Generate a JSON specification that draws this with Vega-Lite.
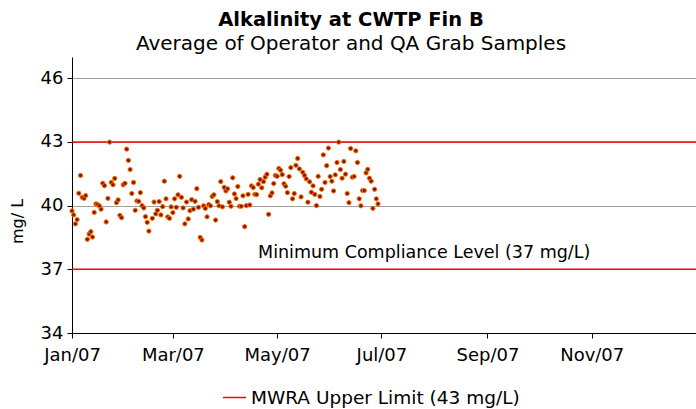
{
  "$schema": "https://vega.github.io/schema/vega-lite/v6.json",
  "width": 624,
  "height": 276,
  "autosize": {"type": "none"},
  "padding": {"left": 72, "top": 57, "right": 0, "bottom": 76},
  "background": "white",
  "config": {"view": {"stroke": null}, "font": "DejaVu Sans"},
  "title": {
    "text": "Alkalinity at CWTP Fin B",
    "subtitle": "Average of Operator and QA Grab Samples",
    "font": "DejaVu Sans",
    "fontSize": 19.5,
    "fontWeight": "bold",
    "color": "black",
    "subtitleFont": "DejaVu Sans",
    "subtitleFontSize": 20,
    "subtitleColor": "black",
    "subtitlePadding": 4,
    "anchor": "middle",
    "dx": -33,
    "offset": 2
  },
  "datasets": {
    "samples": [
      {"date": "2007-01-01", "alk": 39.75}, {"date": "2007-01-02", "alk": 39.56}, {"date": "2007-01-03", "alk": 39.14},
      {"date": "2007-01-04", "alk": 39.34}, {"date": "2007-01-05", "alk": 40.58}, {"date": "2007-01-06", "alk": 41.42},
      {"date": "2007-01-07", "alk": 40.39}, {"date": "2007-01-08", "alk": 40.34}, {"date": "2007-01-09", "alk": 40.47},
      {"date": "2007-01-10", "alk": 38.41}, {"date": "2007-01-11", "alk": 38.66}, {"date": "2007-01-12", "alk": 38.77},
      {"date": "2007-01-13", "alk": 38.52}, {"date": "2007-01-14", "alk": 39.68}, {"date": "2007-01-15", "alk": 40.08},
      {"date": "2007-01-16", "alk": 40.05}, {"date": "2007-01-17", "alk": 39.99}, {"date": "2007-01-18", "alk": 39.83},
      {"date": "2007-01-19", "alk": 41.05}, {"date": "2007-01-20", "alk": 40.94}, {"date": "2007-01-21", "alk": 39.23},
      {"date": "2007-01-22", "alk": 40.34}, {"date": "2007-01-23", "alk": 42.99}, {"date": "2007-01-24", "alk": 41.09},
      {"date": "2007-01-25", "alk": 40.98}, {"date": "2007-01-26", "alk": 41.28}, {"date": "2007-01-27", "alk": 40.14},
      {"date": "2007-01-28", "alk": 40.27}, {"date": "2007-01-29", "alk": 39.54}, {"date": "2007-01-30", "alk": 39.43},
      {"date": "2007-01-31", "alk": 40.98}, {"date": "2007-02-01", "alk": 41.05}, {"date": "2007-02-02", "alk": 42.66},
      {"date": "2007-02-03", "alk": 42.13}, {"date": "2007-02-04", "alk": 41.70}, {"date": "2007-02-05", "alk": 40.57},
      {"date": "2007-02-06", "alk": 41.09}, {"date": "2007-02-07", "alk": 39.78}, {"date": "2007-02-08", "alk": 40.22},
      {"date": "2007-02-09", "alk": 40.20}, {"date": "2007-02-10", "alk": 40.61}, {"date": "2007-02-11", "alk": 40.00},
      {"date": "2007-02-12", "alk": 39.89}, {"date": "2007-02-13", "alk": 39.48}, {"date": "2007-02-14", "alk": 39.21},
      {"date": "2007-02-15", "alk": 38.80}, {"date": "2007-02-17", "alk": 39.40}, {"date": "2007-02-18", "alk": 40.17},
      {"date": "2007-02-19", "alk": 39.61}, {"date": "2007-02-20", "alk": 39.78}, {"date": "2007-02-21", "alk": 40.19},
      {"date": "2007-02-22", "alk": 39.56}, {"date": "2007-02-23", "alk": 39.95}, {"date": "2007-02-24", "alk": 41.15},
      {"date": "2007-02-25", "alk": 40.32}, {"date": "2007-02-26", "alk": 39.47}, {"date": "2007-02-27", "alk": 39.40},
      {"date": "2007-02-28", "alk": 39.94}, {"date": "2007-03-01", "alk": 39.67}, {"date": "2007-03-02", "alk": 40.32},
      {"date": "2007-03-03", "alk": 39.92}, {"date": "2007-03-04", "alk": 40.51}, {"date": "2007-03-05", "alk": 41.38},
      {"date": "2007-03-06", "alk": 40.39}, {"date": "2007-03-07", "alk": 39.89}, {"date": "2007-03-08", "alk": 39.14},
      {"date": "2007-03-09", "alk": 40.17}, {"date": "2007-03-10", "alk": 39.37}, {"date": "2007-03-11", "alk": 39.76},
      {"date": "2007-03-12", "alk": 40.28}, {"date": "2007-03-13", "alk": 39.83}, {"date": "2007-03-14", "alk": 40.20},
      {"date": "2007-03-15", "alk": 40.80}, {"date": "2007-03-16", "alk": 39.92}, {"date": "2007-03-17", "alk": 38.50},
      {"date": "2007-03-18", "alk": 38.38}, {"date": "2007-03-19", "alk": 39.99}, {"date": "2007-03-20", "alk": 39.87},
      {"date": "2007-03-21", "alk": 39.47}, {"date": "2007-03-22", "alk": 40.05}, {"date": "2007-03-23", "alk": 39.99},
      {"date": "2007-03-24", "alk": 40.43}, {"date": "2007-03-25", "alk": 40.51}, {"date": "2007-03-26", "alk": 39.32},
      {"date": "2007-03-27", "alk": 40.19}, {"date": "2007-03-28", "alk": 39.99}, {"date": "2007-03-29", "alk": 41.13},
      {"date": "2007-03-30", "alk": 39.94}, {"date": "2007-03-31", "alk": 40.86}, {"date": "2007-04-01", "alk": 40.69},
      {"date": "2007-04-02", "alk": 40.79}, {"date": "2007-04-03", "alk": 40.16}, {"date": "2007-04-04", "alk": 39.97},
      {"date": "2007-04-05", "alk": 41.31}, {"date": "2007-04-06", "alk": 40.55}, {"date": "2007-04-07", "alk": 40.33},
      {"date": "2007-04-08", "alk": 40.90}, {"date": "2007-04-09", "alk": 39.97}, {"date": "2007-04-10", "alk": 39.97},
      {"date": "2007-04-11", "alk": 40.46}, {"date": "2007-04-12", "alk": 39.01}, {"date": "2007-04-13", "alk": 40.00},
      {"date": "2007-04-14", "alk": 40.53}, {"date": "2007-04-15", "alk": 40.03}, {"date": "2007-04-16", "alk": 40.93},
      {"date": "2007-04-17", "alk": 40.85}, {"date": "2007-04-18", "alk": 40.53}, {"date": "2007-04-19", "alk": 40.52},
      {"date": "2007-04-20", "alk": 41.01}, {"date": "2007-04-21", "alk": 41.23}, {"date": "2007-04-22", "alk": 40.84},
      {"date": "2007-04-23", "alk": 41.13}, {"date": "2007-04-24", "alk": 41.34}, {"date": "2007-04-25", "alk": 41.48},
      {"date": "2007-04-26", "alk": 39.59}, {"date": "2007-04-27", "alk": 40.46}, {"date": "2007-04-28", "alk": 40.60},
      {"date": "2007-04-29", "alk": 41.04}, {"date": "2007-04-30", "alk": 41.42}, {"date": "2007-05-01", "alk": 41.38},
      {"date": "2007-05-02", "alk": 41.75}, {"date": "2007-05-03", "alk": 41.67}, {"date": "2007-05-04", "alk": 41.46},
      {"date": "2007-05-05", "alk": 41.03}, {"date": "2007-05-06", "alk": 40.91}, {"date": "2007-05-07", "alk": 40.61},
      {"date": "2007-05-08", "alk": 41.37}, {"date": "2007-05-09", "alk": 41.79}, {"date": "2007-05-10", "alk": 40.32},
      {"date": "2007-05-11", "alk": 40.57}, {"date": "2007-05-12", "alk": 41.90}, {"date": "2007-05-13", "alk": 42.22},
      {"date": "2007-05-14", "alk": 41.73}, {"date": "2007-05-15", "alk": 40.41}, {"date": "2007-05-16", "alk": 41.57},
      {"date": "2007-05-17", "alk": 41.42}, {"date": "2007-05-18", "alk": 41.26}, {"date": "2007-05-19", "alk": 40.16},
      {"date": "2007-05-20", "alk": 41.12}, {"date": "2007-05-21", "alk": 40.63}, {"date": "2007-05-22", "alk": 40.93},
      {"date": "2007-05-23", "alk": 40.53}, {"date": "2007-05-24", "alk": 40.00}, {"date": "2007-05-25", "alk": 41.38},
      {"date": "2007-05-26", "alk": 40.43}, {"date": "2007-05-27", "alk": 40.77}, {"date": "2007-05-28", "alk": 42.39},
      {"date": "2007-05-29", "alk": 41.09}, {"date": "2007-05-30", "alk": 41.88}, {"date": "2007-05-31", "alk": 42.71},
      {"date": "2007-06-01", "alk": 41.37}, {"date": "2007-06-02", "alk": 41.15}, {"date": "2007-06-03", "alk": 40.69},
      {"date": "2007-06-04", "alk": 41.45}, {"date": "2007-06-05", "alk": 42.03}, {"date": "2007-06-06", "alk": 42.99},
      {"date": "2007-06-07", "alk": 41.70}, {"date": "2007-06-08", "alk": 41.29}, {"date": "2007-06-09", "alk": 42.08},
      {"date": "2007-06-10", "alk": 41.48}, {"date": "2007-06-11", "alk": 40.57}, {"date": "2007-06-12", "alk": 40.14},
      {"date": "2007-06-13", "alk": 42.69}, {"date": "2007-06-14", "alk": 41.34}, {"date": "2007-06-15", "alk": 41.37},
      {"date": "2007-06-16", "alk": 42.58}, {"date": "2007-06-17", "alk": 42.03}, {"date": "2007-06-18", "alk": 40.32},
      {"date": "2007-06-19", "alk": 39.99}, {"date": "2007-06-20", "alk": 40.71}, {"date": "2007-06-21", "alk": 40.71},
      {"date": "2007-06-22", "alk": 41.54}, {"date": "2007-06-23", "alk": 41.71}, {"date": "2007-06-24", "alk": 41.29},
      {"date": "2007-06-25", "alk": 41.15}, {"date": "2007-06-26", "alk": 39.87}, {"date": "2007-06-27", "alk": 40.77},
      {"date": "2007-06-28", "alk": 40.32}, {"date": "2007-06-29", "alk": 40.08}
    ],
    "lower": [{"alk": 37}],
    "upper": [{"alk": 43, "series": "MWRA Upper Limit (43 mg/L)"}],
    "note": [{"date": "2007-07-26", "alk": 37.55, "label": "Minimum Compliance Level (37 mg/L)"}]
  },
  "encoding": {
    "y": {
      "field": "alk", "type": "quantitative",
      "scale": {"domain": [34, 47], "nice": false, "zero": false},
      "axis": {
        "values": [34, 37, 40, 43, 46],
        "title": "mg/ L", "titleFont": "DejaVu Sans", "titleFontSize": 16, "titleFontWeight": "normal",
        "titleColor": "black", "titleAngle": -90, "titleX": -55, "titleY": 164,
        "titleAlign": "center", "titleBaseline": "middle",
        "labelFont": "DejaVu Sans", "labelFontSize": 18, "labelColor": "black", "labelPadding": 4,
        "tickSize": 5, "tickColor": "black", "domainColor": "black",
        "grid": true, "gridColor": "#a0a0a0", "gridWidth": 1
      }
    }
  },
  "layer": [
    {
      "data": {"name": "lower"},
      "mark": {"type": "rule", "color": "#ff0000", "strokeWidth": 1.5},
      "encoding": {}
    },
    {
      "data": {"name": "upper"},
      "mark": {"type": "rule", "strokeWidth": 1.5},
      "encoding": {
        "color": {
          "field": "series", "type": "nominal",
          "scale": {"range": ["#ff0000"]},
          "legend": {
            "orient": "none", "legendX": 150, "legendY": 328, "title": null,
            "symbolType": "stroke", "symbolSize": 529, "symbolStrokeWidth": 1.5,
            "labelFont": "DejaVu Sans", "labelFontSize": 18.5, "labelColor": "black", "labelLimit": 0
          }
        }
      }
    },
    {
      "data": {"name": "samples"},
      "mark": {"type": "circle", "size": 18, "fill": "#801a00", "stroke": "#ff6a00", "strokeWidth": 1, "opacity": 1},
      "encoding": {
        "x": {
          "field": "date", "type": "temporal",
          "scale": {"type": "utc", "domain": [{"year": 2007, "month": 1, "date": 1, "utc": true}, {"year": 2008, "month": 1, "date": 1, "utc": true}]},
          "axis": {
            "title": null,
            "values": [
              {"year": 2007, "month": 1, "date": 1, "utc": true},
              {"year": 2007, "month": 3, "date": 1, "utc": true},
              {"year": 2007, "month": 5, "date": 1, "utc": true},
              {"year": 2007, "month": 7, "date": 1, "utc": true},
              {"year": 2007, "month": 9, "date": 1, "utc": true},
              {"year": 2007, "month": 11, "date": 1, "utc": true}
            ],
            "labelExpr": "utcFormat(datum.value, '%b/%y')",
            "grid": false, "labelFont": "DejaVu Sans", "labelFontSize": 18, "labelColor": "black",
            "labelPadding": 8, "labelFlush": false, "labelOverlap": false,
            "tickSize": 5, "tickColor": "black", "domainColor": "black"
          }
        }
      }
    },
    {
      "data": {"name": "note"},
      "mark": {"type": "text", "align": "center", "baseline": "alphabetic", "font": "DejaVu Sans", "fontSize": 17.5, "color": "black"},
      "encoding": {
        "x": {
          "field": "date", "type": "temporal",
          "axis": {
            "title": null,
            "values": [
              {"year": 2007, "month": 1, "date": 1, "utc": true},
              {"year": 2007, "month": 3, "date": 1, "utc": true},
              {"year": 2007, "month": 5, "date": 1, "utc": true},
              {"year": 2007, "month": 7, "date": 1, "utc": true},
              {"year": 2007, "month": 9, "date": 1, "utc": true},
              {"year": 2007, "month": 11, "date": 1, "utc": true}
            ],
            "labelExpr": "utcFormat(datum.value, '%b/%y')",
            "grid": false, "labelFont": "DejaVu Sans", "labelFontSize": 18, "labelColor": "black",
            "labelPadding": 8, "labelFlush": false, "labelOverlap": false,
            "tickSize": 5, "tickColor": "black", "domainColor": "black"
          }
        },
        "text": {"field": "label"}
      }
    }
  ]
}
